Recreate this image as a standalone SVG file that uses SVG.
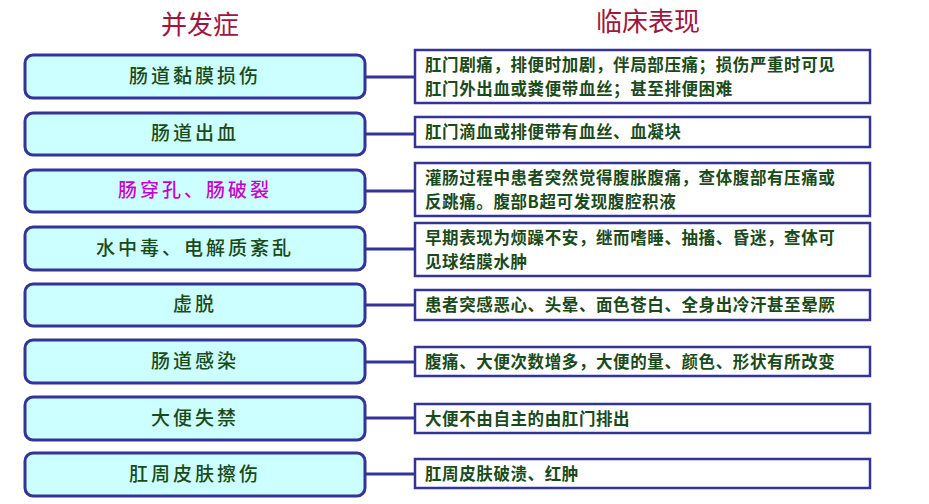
<svg xmlns="http://www.w3.org/2000/svg" width="929" height="504" viewBox="0 0 929 504">
<style>
.l{fill:#ccffff;stroke:#333399;stroke-width:3}
.r{fill:#fff;stroke:#333399;stroke-width:2.5}
.lt{font-family:"Noto Sans CJK SC",sans-serif;font-size:19px;font-weight:500;fill:#1a4a1a;text-anchor:middle;letter-spacing:3px}
.rt{font-family:"Noto Sans CJK SC",sans-serif;font-size:16.5px;font-weight:bold;fill:#1a4a1a;letter-spacing:0.6px}
.c{stroke:#333399;stroke-width:3}
.h{font-family:"Noto Sans CJK SC",sans-serif;font-size:26px;fill:#a0153e;text-anchor:middle}
</style>
<rect width="929" height="504" fill="#fff"/>
<text class="h" x="200" y="34">并发症</text>
<text class="h" x="648" y="31">临床表现</text>
<g id="connectors">
<line class="c" x1="365" y1="77" x2="415" y2="77"/>
<line class="c" x1="365" y1="134" x2="415" y2="134"/>
<line class="c" x1="365" y1="191" x2="415" y2="191"/>
<line class="c" x1="365" y1="249" x2="415" y2="249"/>
<line class="c" x1="365" y1="305" x2="415" y2="305"/>
<line class="c" x1="365" y1="362" x2="415" y2="362"/>
<line class="c" x1="365" y1="418" x2="415" y2="418"/>
<line class="c" x1="365" y1="474" x2="415" y2="474"/>
</g>
<g id="n1"><rect class="l" x="25" y="55" width="340" height="43" rx="8"/><text class="lt" x="195" y="83">肠道黏膜损伤</text></g>
<g id="n2"><rect class="l" x="25" y="113" width="340" height="42" rx="8"/><text class="lt" x="195" y="140">肠道出血</text></g>
<g id="n3"><rect class="l" x="25" y="170" width="340" height="42" rx="8"/><text class="lt" x="195" y="197" style="fill:#cc00cc">肠穿孔、肠破裂</text></g>
<g id="n4"><rect class="l" x="25" y="227" width="340" height="43" rx="8"/><text class="lt" x="195" y="255">水中毒、电解质紊乱</text></g>
<g id="n5"><rect class="l" x="25" y="284" width="340" height="42" rx="8"/><text class="lt" x="195" y="311">虚脱</text></g>
<g id="n6"><rect class="l" x="25" y="340" width="340" height="43" rx="8"/><text class="lt" x="195" y="368">肠道感染</text></g>
<g id="n7"><rect class="l" x="25" y="397" width="340" height="43" rx="8"/><text class="lt" x="195" y="425">大便失禁</text></g>
<g id="n8"><rect class="l" x="25" y="453" width="340" height="43" rx="8"/><text class="lt" x="195" y="481">肛周皮肤擦伤</text></g>
<g id="r1"><rect class="r" x="415" y="50" width="455" height="53"/><text class="rt" x="425" y="71">肛门剧痛，排便时加剧，伴局部压痛；损伤严重时可见</text><text class="rt" x="425" y="95">肛门外出血或粪便带血丝；甚至排便困难</text></g>
<g id="r2"><rect class="r" x="415" y="117" width="455" height="30"/><text class="rt" x="425" y="138">肛门滴血或排便带有血丝、血凝块</text></g>
<g id="r3"><rect class="r" x="415" y="163" width="455" height="53"/><text class="rt" x="425" y="184">灌肠过程中患者突然觉得腹胀腹痛，查体腹部有压痛或</text><text class="rt" x="425" y="208">反跳痛。腹部B超可发现腹腔积液</text></g>
<g id="r4"><rect class="r" x="415" y="223" width="455" height="53"/><text class="rt" x="425" y="244">早期表现为烦躁不安，继而嗜睡、抽搐、昏迷，查体可</text><text class="rt" x="425" y="268">见球结膜水肿</text></g>
<g id="r5"><rect class="r" x="415" y="290" width="455" height="30"/><text class="rt" x="425" y="311">患者突感恶心、头晕、面色苍白、全身出冷汗甚至晕厥</text></g>
<g id="r6"><rect class="r" x="415" y="347" width="455" height="29"/><text class="rt" x="425" y="368">腹痛、大便次数增多，大便的量、颜色、形状有所改变</text></g>
<g id="r7"><rect class="r" x="415" y="404" width="455" height="29"/><text class="rt" x="425" y="425">大便不由自主的由肛门排出</text></g>
<g id="r8"><rect class="r" x="415" y="459" width="455" height="29"/><text class="rt" x="425" y="480">肛周皮肤破溃、红肿</text></g>
</svg>
